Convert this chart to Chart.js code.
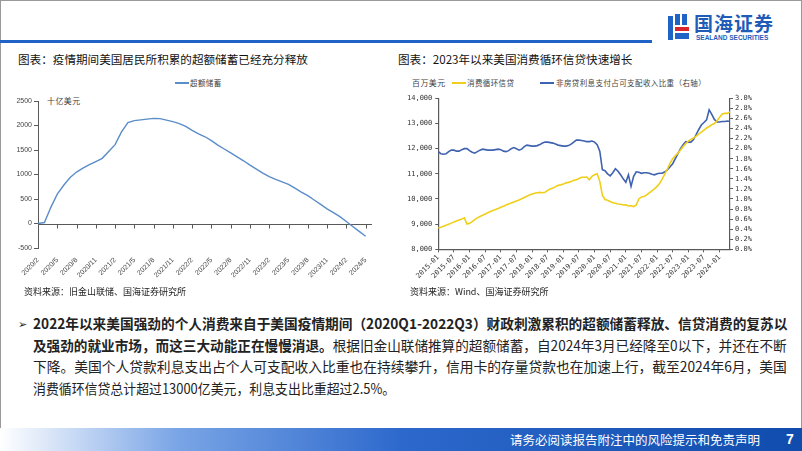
<!DOCTYPE html>
<html><head><meta charset="utf-8">
<script src="https://cdn.jsdelivr.net/npm/chart.js@4.4.1/dist/chart.umd.min.js"></script>
<style>
html,body{margin:0;padding:0;background:#fff;}
body{width:802px;height:451px;position:relative;overflow:hidden;font-family:"Noto Sans CJK SC","Noto Sans",sans-serif;}
.abs{position:absolute;white-space:nowrap;}
.frame{position:absolute;left:0;top:0;width:800px;height:428px;border:1px solid #9a9a9a;border-bottom:none;}
.topline{position:absolute;left:0;top:40px;width:652px;height:3px;background:#1f63c6;}
.title{font-size:11.6px;color:#111;line-height:14px;}
.src{font-size:9px;color:#222;line-height:11px;}
.leg{font-size:7.5px;color:#444;line-height:9px;letter-spacing:0.4px;}
.legline{position:absolute;height:1.5px;}
.para{font-size:14px;line-height:20px;color:#222;transform-origin:0 50%;}
.footer{position:absolute;left:0;top:428px;width:802px;height:23px;background:linear-gradient(to right,#ffffff 0%,#7aa5e6 22%,#2d69cc 50%,#0f4cad 100%);}
canvas{position:absolute;}
</style></head>
<body>
<div class="frame"></div>
<div class="topline"></div>
<!-- logo -->
<div class="abs" style="left:668px;top:14px;width:22px;height:28px;">
  <div style="position:absolute;left:0;top:2px;width:5px;height:24px;background:#1f63c6;"></div>
  <div style="position:absolute;left:7px;top:0;width:5px;height:11px;background:#1f63c6;"></div>
  <div style="position:absolute;left:14px;top:0;width:5px;height:11px;background:#1f63c6;"></div>
  <div style="position:absolute;left:7px;top:13px;width:14px;height:4px;background:#d9262c;"></div>
  <div style="position:absolute;left:7px;top:19px;width:14px;height:6px;background:#1f63c6;"></div>
</div>
<div class="abs" style="left:694px;top:12px;font-size:19px;font-weight:bold;color:#1f5cb8;line-height:22px;letter-spacing:1px;">国海证券</div>
<div class="abs" style="left:696px;top:34px;font-size:6.5px;font-weight:bold;color:#1f5cb8;line-height:8px;font-family:'Liberation Sans',sans-serif;">SEALAND SECURITIES</div>

<div class="abs title" style="left:18px;top:52px;">图表：疫情期间美国居民所积累的超额储蓄已经充分释放</div>
<div class="abs title" style="left:398px;top:52px;">图表：2023年以来美国消费循环信贷快速增长</div>

<!-- left legend -->
<div class="legline" style="left:175px;top:82px;width:14px;background:#5b8dc8;"></div>
<div class="abs leg" style="left:190px;top:78px;">超额储蓄</div>
<div class="abs leg" style="left:47px;top:96px;font-size:8px;">十亿美元</div>

<!-- right legend -->
<div class="abs leg" style="left:412px;top:78px;font-size:8px;">百万美元</div>
<div class="legline" style="left:452px;top:82px;width:14px;background:#f0cf1a;"></div>
<div class="abs leg" style="left:467px;top:78px;">消费循环信贷</div>
<div class="legline" style="left:540px;top:82px;width:14px;background:#3f62b0;"></div>
<div class="abs leg" style="left:556px;top:78px;">非房贷利息支付占可支配收入比重（右轴）</div>

<canvas id="c1" width="395" height="205" style="left:0;top:88px;"></canvas>
<canvas id="c2" width="407" height="205" style="left:395px;top:88px;"></canvas>

<div class="abs src" style="left:24px;top:286px;">资料来源：旧金山联储、国海证券研究所</div>
<div class="abs src" style="left:410px;top:286px;">资料来源：Wind、国海证券研究所</div>

<div class="abs" style="left:18px;top:314px;font-size:11px;color:#222;line-height:18px;">➢</div>
<div class="abs para" data-w="754" style="left:33px;top:313px;font-weight:bold;">2022年以来美国强劲的个人消费来自于美国疫情期间（2020Q1-2022Q3）财政刺激累积的超额储蓄释放、信贷消费的复苏以</div>
<div class="abs para" data-w="754" style="left:33px;top:335px;"><b>及强劲的就业市场，而这三大动能正在慢慢消退。</b>根据旧金山联储推算的超额储蓄，自2024年3月已经降至0以下，并还在不断</div>
<div class="abs para" data-w="754" style="left:33px;top:356px;">下降。美国个人贷款利息支出占个人可支配收入比重也在持续攀升，信用卡的存量贷款也在加速上行，截至2024年6月，美国</div>
<div class="abs para" data-w="362" style="left:33px;top:378px;">消费循环信贷总计超过13000亿美元，利息支出比重超过2.5%。</div>

<div class="footer"></div>
<div class="abs" style="left:510px;top:432px;font-size:12.5px;color:#fff;line-height:15px;">请务必阅读报告附注中的风险提示和免责声明</div>
<div class="abs" style="left:786px;top:431px;font-size:14px;font-weight:bold;color:#fff;line-height:16px;font-family:'Liberation Sans',sans-serif;">7</div>

<script>
// ---------- DATA ----------
// Left chart: excess savings (billion USD), monthly 2020/2 .. 2024/6
const leftStartYear = 2020, leftStartMonth = 2, leftCount = 53;
const excessSavings = [0, 20, 330, 600, 780, 940, 1050, 1130, 1200, 1265, 1330, 1470, 1610, 1870, 2060, 2100, 2115, 2130, 2145, 2140, 2110, 2080, 2040, 1980, 1900, 1830, 1770, 1690, 1600, 1520, 1440, 1360, 1280, 1190, 1110, 1030, 955, 900, 850, 800, 720, 640, 570, 480, 390, 300, 220, 140, 40, -60, -160, -260, null];
const leftTickLabels = ['2020/2','2020/5','2020/8','2020/11','2021/2','2021/5','2021/8','2021/11','2022/2','2022/5','2022/8','2022/11','2023/2','2023/5','2023/8','2023/11','2024/2','2024/5'];
const leftYTicks = [-500, 0, 500, 1000, 1500, 2000, 2500];

// Right chart: monthly 2015-01 .. 2024-05
const rightStartYear = 2015, rightCount = 113;
const revolvingCredit = [8850, 8880, 8920, 8960, 9000, 9040, 9080, 9120, 9160, 9200, 9250, 9000, 9030, 9100, 9180, 9250, 9300, 9350, 9400, 9450, 9500, 9540, 9580, 9620, 9670, 9710, 9760, 9800, 9840, 9880, 9920, 9960, 10010, 10060, 10110, 10160, 10200, 10230, 10250, 10260, 10250, 10270, 10340, 10400, 10440, 10490, 10540, 10560, 10590, 10640, 10660, 10690, 10740, 10760, 10810, 10860, 10860, 10870, 10760, 10900, 10960, 11000, 10700, 10150, 9980, 9950, 9900, 9850, 9830, 9800, 9790, 9760, 9770, 9720, 9730, 9700, 9760, 10000, 10080, 10100, 10160, 10240, 10320, 10400, 10500, 10620, 10800, 11000, 11200, 11420, 11600, 11720, 11820, 11950, 12080, 12200, 12300, 12370, 12420, 12500, 12580, 12660, 12740, 12820, 12880, 12950, 13000, 13100, 13250, 13380, 13400, 13400, 13460];
const interestShare = [1.94, 1.90, 1.89, 1.90, 1.94, 1.97, 1.97, 1.95, 1.95, 1.98, 2.00, 2.00, 1.96, 1.93, 1.91, 1.94, 1.97, 1.99, 1.98, 1.97, 1.97, 1.97, 1.98, 1.99, 1.98, 1.95, 1.94, 1.96, 2.00, 2.02, 2.00, 1.97, 1.99, 2.04, 2.07, 2.06, 2.05, 2.05, 2.06, 2.08, 2.11, 2.13, 2.13, 2.12, 2.11, 2.09, 2.07, 2.06, 2.05, 2.05, 2.06, 2.09, 2.13, 2.17, 2.17, 2.16, 2.15, 2.14, 2.14, 2.15, 2.13, 2.08, 1.95, 1.58, 1.56, 1.50, 1.46, 1.52, 1.60, 1.55, 1.48, 1.40, 1.33, 1.48, 1.25, 1.45, 1.54, 1.53, 1.51, 1.52, 1.52, 1.51, 1.49, 1.48, 1.50, 1.51, 1.51, 1.54, 1.58, 1.64, 1.70, 1.80, 1.90, 2.00, 2.08, 2.14, 2.13, 2.13, 2.18, 2.28, 2.38, 2.47, 2.52, 2.57, 2.77, 2.68, 2.58, 2.53, 2.53, 2.54, 2.54, 2.55, 2.54];
const rightTickLabels = ['2015-01','2015-07','2016-01','2016-07','2017-01','2017-07','2018-01','2018-07','2019-01','2019-07','2020-01','2020-07','2021-01','2021-07','2022-01','2022-07','2023-01','2023-07','2024-01'];
const rightYTicks = [8000, 9000, 10000, 11000, 12000, 13000, 14000];
const rightY1Ticks = [0.0, 0.2, 0.4, 0.6, 0.8, 1.0, 1.2, 1.4, 1.6, 1.8, 2.0, 2.2, 2.4, 2.6, 2.8, 3.0];

// ---------- categories ----------
const leftMonths = [];
for (let i = 0; i < leftCount; i++) { const t = leftStartMonth - 1 + i; leftMonths.push((leftStartYear + Math.floor(t/12)) + '/' + (t%12 + 1)); }
const rightMonths = [];
for (let i = 0; i < rightCount; i++) { const m = i%12 + 1; rightMonths.push((rightStartYear + Math.floor(i/12)) + '-' + (m < 10 ? '0' + m : m)); }

Chart.defaults.animation = false;
Chart.defaults.font.family = "'Liberation Sans', Arial, sans-serif";
Chart.defaults.color = '#333';

const axisCol = '#595959';

const zeroAxis = {
  id: 'zeroAxis',
  beforeDatasetsDraw(chart) {
    const {ctx, scales: {x, y}} = chart;
    const y0 = Math.round(y.getPixelForValue(0)) + 0.5;
    ctx.save();
    ctx.strokeStyle = axisCol; ctx.lineWidth = 1;
    ctx.beginPath();
    ctx.moveTo(x.left, y0); ctx.lineTo(x.right, y0);
    leftTickLabels.forEach(l => {
      const px = Math.round(x.getPixelForValue(leftMonths.indexOf(l))) + 0.5;
      ctx.moveTo(px, y0); ctx.lineTo(px, y0 + 4);
    });
    ctx.stroke();
    ctx.restore();
  }
};

new Chart(document.getElementById('c1'), {
  type: 'line',
  data: { labels: leftMonths, datasets: [{ data: excessSavings, borderColor: '#5b8dc8', borderWidth: 1.4, pointRadius: 0, tension: 0, spanGaps: false }] },
  options: {
    responsive: false, maintainAspectRatio: false,
    layout: { padding: { left: 0, right: 23, top: 13, bottom: 0 } },
    plugins: { legend: { display: false }, tooltip: { enabled: false } },
    scales: {
      x: {
        offset: false,
        grid: { display: false },
        border: { display: false },
        ticks: { autoSkip: false, maxRotation: 45, minRotation: 45, padding: 0, font: { size: 7 }, color: '#444',
          callback: function(v, i) { const l = leftMonths[i]; return leftTickLabels.includes(l) ? l : null; } },
        afterFit(s) { s.height = 45; }
      },
      y: {
        min: -500, max: 2500,
        afterBuildTicks(s) { s.ticks = leftYTicks.map(v => ({ value: v })); },
        grid: { drawOnChartArea: false, drawTicks: true, tickLength: 4, color: axisCol },
        border: { display: true, color: axisCol },
        ticks: { autoSkip: false, padding: 2, font: { size: 7 }, color: '#444', callback: v => String(v) },
        afterFit(s) { s.width = 38; }
      }
    }
  },
  plugins: [zeroAxis]
});

new Chart(document.getElementById('c2'), {
  type: 'line',
  data: { labels: rightMonths, datasets: [
    { data: revolvingCredit, yAxisID: 'y', borderColor: '#f0cf1a', borderWidth: 1.6, pointRadius: 0, tension: 0 },
    { data: interestShare, yAxisID: 'y1', borderColor: '#3f62b0', borderWidth: 1.6, pointRadius: 0, tension: 0 }
  ] },
  options: {
    responsive: false, maintainAspectRatio: false,
    layout: { padding: { left: 0, right: 0, top: 10.3, bottom: 0 } },
    plugins: { legend: { display: false }, tooltip: { enabled: false } },
    scales: {
      x: {
        offset: false,
        grid: { drawOnChartArea: false, drawTicks: true, tickLength: 3, color: axisCol },
        border: { display: true, color: axisCol, width: 1.2 },
        ticks: { autoSkip: false, maxRotation: 45, minRotation: 45, padding: 1, font: { size: 7, family: "'DejaVu Sans Mono', monospace" }, color: '#333',
          callback: function(v, i) { const l = rightMonths[i]; return rightTickLabels.includes(l) ? l : null; } },
        afterFit(s) { s.height = 43.7; }
      },
      y: {
        position: 'left', min: 8000, max: 14000,
        afterBuildTicks(s) { s.ticks = rightYTicks.map(v => ({ value: v })); },
        ticks: { autoSkip: false, padding: 3, font: { size: 7, family: "'DejaVu Sans Mono', monospace" }, color: '#333',
          callback: v => v.toLocaleString('en-US') },
        grid: { drawOnChartArea: false, drawTicks: true, tickLength: 3, color: axisCol },
        border: { display: true, color: axisCol, width: 1.2 },
        afterFit(s) { s.width = 43.3; }
      },
      y1: {
        position: 'right', min: 0, max: 3.0,
        afterBuildTicks(s) { s.ticks = rightY1Ticks.map(v => ({ value: v })); },
        ticks: { autoSkip: false, padding: 2, font: { size: 7, family: "'DejaVu Sans Mono', monospace" }, color: '#333',
          callback: v => v.toFixed(1) + '%' },
        grid: { drawOnChartArea: false, drawTicks: true, tickLength: 3, color: axisCol },
        border: { display: true, color: axisCol, width: 1.2 },
        afterFit(s) { s.width = 72; }
      }
    }
  }
});

// fit paragraph lines to their measured widths in the reference
document.querySelectorAll('.para').forEach(el => {
  const target = parseFloat(el.dataset.w);
  const w = el.scrollWidth;
  if (w > 0) el.style.transform = 'scaleX(' + (target / w) + ')';
});
</script>
</body></html>
